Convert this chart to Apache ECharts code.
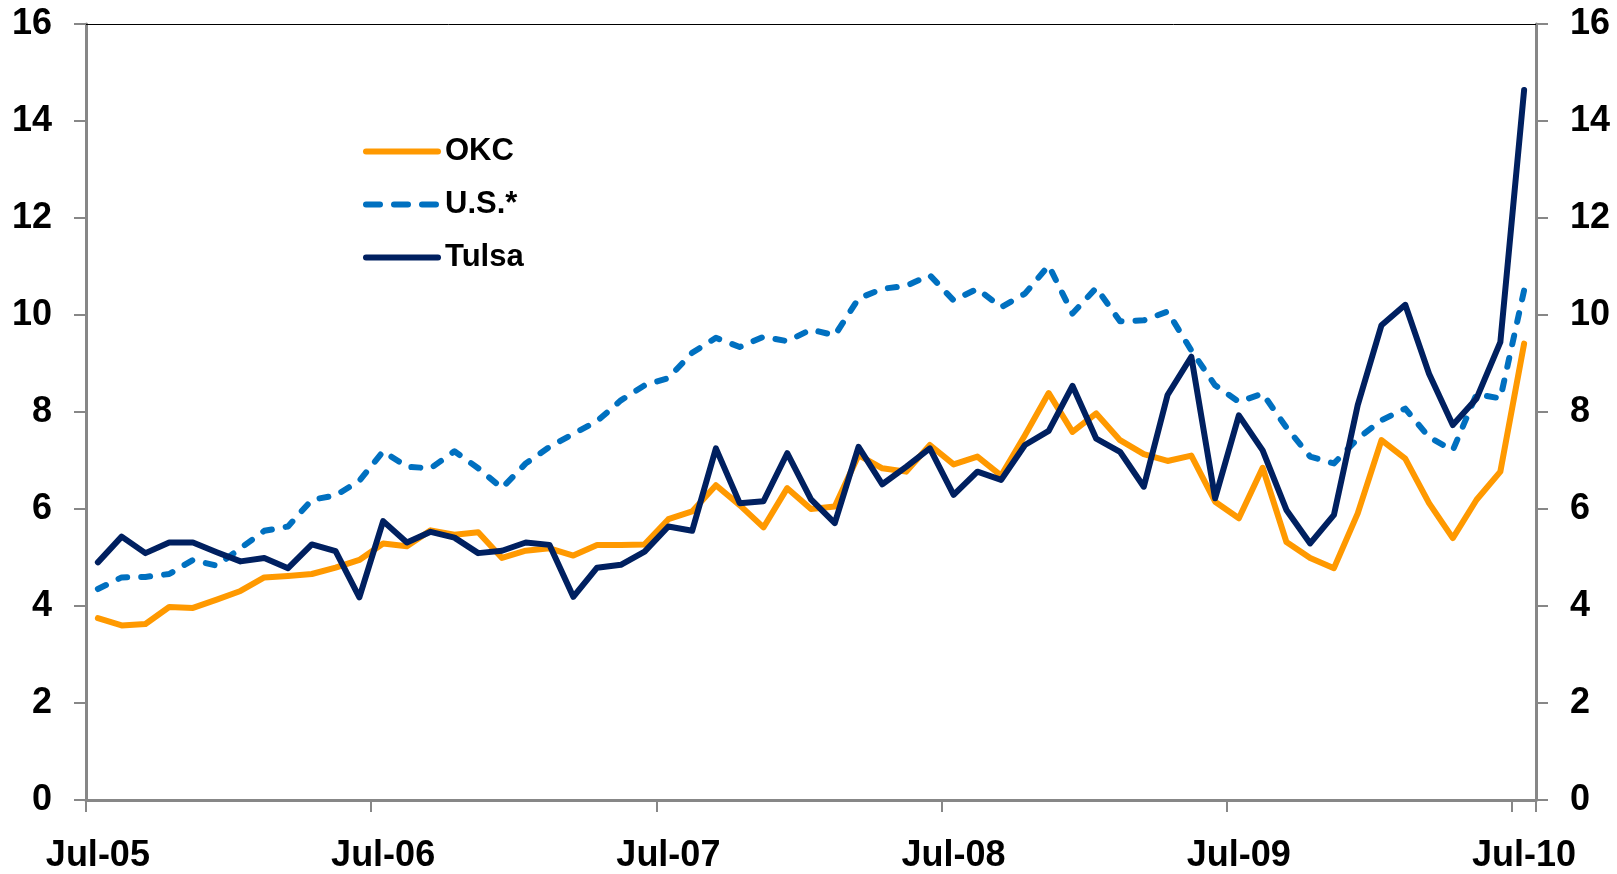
<!DOCTYPE html>
<html>
<head>
<meta charset="utf-8">
<script src="https://cdn.jsdelivr.net/npm/echarts@6/dist/echarts.min.js"></script>
<style>
  html, body { margin: 0; padding: 0; background: #fff; }
  #main { width: 1617px; height: 874px; }
</style>
</head>
<body>
<div id="main"></div>
<script>
var myChart = echarts.init(document.getElementById('main'));

// months, Jul-05 .. Jul-10
var months = [
  'Jul-05', 'Aug-05', 'Sep-05', 'Oct-05', 'Nov-05', 'Dec-05',
  'Jan-06', 'Feb-06', 'Mar-06', 'Apr-06', 'May-06', 'Jun-06',
  'Jul-06', 'Aug-06', 'Sep-06', 'Oct-06', 'Nov-06', 'Dec-06',
  'Jan-07', 'Feb-07', 'Mar-07', 'Apr-07', 'May-07', 'Jun-07',
  'Jul-07', 'Aug-07', 'Sep-07', 'Oct-07', 'Nov-07', 'Dec-07',
  'Jan-08', 'Feb-08', 'Mar-08', 'Apr-08', 'May-08', 'Jun-08',
  'Jul-08', 'Aug-08', 'Sep-08', 'Oct-08', 'Nov-08', 'Dec-08',
  'Jan-09', 'Feb-09', 'Mar-09', 'Apr-09', 'May-09', 'Jun-09',
  'Jul-09', 'Aug-09', 'Sep-09', 'Oct-09', 'Nov-09', 'Dec-09',
  'Jan-10', 'Feb-10', 'Mar-10', 'Apr-10', 'May-10', 'Jun-10',
  'Jul-10'
];

var okc = [
  3.75, 3.60, 3.63, 3.98, 3.96, 4.13, 4.31, 4.59, 4.62, 4.66, 4.79, 4.95,
  5.29, 5.23, 5.56, 5.47, 5.52, 4.99, 5.14, 5.19, 5.04, 5.26, 5.26, 5.27,
  5.79, 5.95, 6.49, 6.08, 5.62, 6.43, 6.00, 6.05, 7.11, 6.84, 6.77, 7.32,
  6.92, 7.08, 6.69, 7.52, 8.39, 7.59, 7.97, 7.42, 7.13, 6.99, 7.10, 6.15,
  5.81, 6.85, 5.32, 4.99, 4.78, 5.91, 7.42, 7.04, 6.12, 5.40, 6.19, 6.77,
  9.41
];

var us = [
  4.35, 4.59, 4.60, 4.66, 4.95, 4.83, 5.19, 5.55, 5.64, 6.19, 6.28, 6.58,
  7.19, 6.87, 6.84, 7.19, 6.84, 6.43, 6.94, 7.28, 7.55, 7.81, 8.24, 8.55,
  8.70, 9.22, 9.53, 9.34, 9.55, 9.46, 9.70, 9.58, 10.34, 10.54, 10.60, 10.82,
  10.30, 10.54, 10.16, 10.44, 11.02, 10.03, 10.56, 9.87, 9.89, 10.07, 9.27, 8.55,
  8.21, 8.38, 7.68, 7.08, 6.94, 7.45, 7.83, 8.07, 7.48, 7.21, 8.37, 8.28,
  10.51
];

var tulsa = [
  4.90, 5.43, 5.09, 5.31, 5.31, 5.11, 4.92, 4.99, 4.78, 5.27, 5.13, 4.18,
  5.75, 5.31, 5.53, 5.41, 5.09, 5.14, 5.31, 5.26, 4.19, 4.79, 4.85, 5.12,
  5.64, 5.55, 7.25, 6.12, 6.16, 7.15, 6.20, 5.71, 7.28, 6.51, 6.87, 7.25,
  6.29, 6.77, 6.60, 7.32, 7.61, 8.54, 7.45, 7.18, 6.46, 8.35, 9.14, 6.22,
  7.93, 7.21, 5.98, 5.29, 5.88, 8.14, 9.79, 10.21, 8.79, 7.73, 8.28, 9.44,
  14.64
];

var FONT = 'Arial, "Liberation Sans", sans-serif';
var AXIS_GREY = '#878787';

function valueAxis(pos) {
  return {
    type: 'value',
    position: pos,
    min: 0,
    max: 16,
    interval: 2,
    splitLine: { show: false },
    axisLine: { show: true, lineStyle: { color: AXIS_GREY, width: 3 } },
    axisTick: { show: true, inside: false, length: 12, lineStyle: { color: AXIS_GREY, width: 2 } },
    axisLabel: {
      margin: 34,
      color: '#000',
      fontSize: 36,
      fontWeight: 'bold',
      fontFamily: FONT
    }
  };
}

var option = {
  backgroundColor: '#fff',
  animation: false,
  grid: { left: 86, right: 81, top: 24, bottom: 72 },
  legend: {
    orient: 'vertical',
    left: 358,
    top: 131,
    itemWidth: 72,
    itemHeight: 30,
    itemGap: 22,
    itemStyle: { opacity: 0 },
    lineStyle: { width: 6, cap: 'round' },
    textStyle: { fontSize: 31, fontWeight: 'bold', color: '#000', fontFamily: FONT, padding: [0, 0, 0, 2] },
    data: [
      { name: 'OKC' },
      { name: 'U.S.*', lineStyle: { type: [14, 14] } },
      { name: 'Tulsa' }
    ]
  },
  xAxis: [{
    type: 'category',
    position: 'bottom',
    data: months,
    boundaryGap: true,
    axisLine: { show: true, onZero: false, lineStyle: { color: AXIS_GREY, width: 3 } },
    axisTick: { show: true, interval: 11, length: 12, lineStyle: { color: AXIS_GREY, width: 2 } },
    axisLabel: {
      interval: 11,
      margin: 38,
      color: '#000',
      fontSize: 36,
      fontWeight: 'bold',
      fontFamily: FONT
    },
    splitLine: { show: false }
  }, {
    // thin top border of the plot area
    type: 'category',
    position: 'top',
    data: months,
    axisLine: { show: true, onZero: false, lineStyle: { color: '#000', width: 1 } },
    axisTick: { show: false },
    axisLabel: { show: false },
    splitLine: { show: false }
  }],
  yAxis: [valueAxis('left'), valueAxis('right')],
  series: [{
    name: 'OKC',
    type: 'line',
    data: okc,
    symbol: 'none',
    color: '#FF9900',
    lineStyle: { width: 6, color: '#FF9900', join: 'round', cap: 'round' }
  }, {
    name: 'U.S.*',
    type: 'line',
    data: us,
    symbol: 'none',
    color: '#0070C0',
    lineStyle: { width: 6, color: '#0070C0', type: [9, 14], cap: 'round', join: 'round' }
  }, {
    name: 'Tulsa',
    type: 'line',
    data: tulsa,
    symbol: 'none',
    color: '#002060',
    lineStyle: { width: 6, color: '#002060', join: 'round', cap: 'round' }
  }]
};

myChart.setOption(option);
</script>
</body>
</html>
